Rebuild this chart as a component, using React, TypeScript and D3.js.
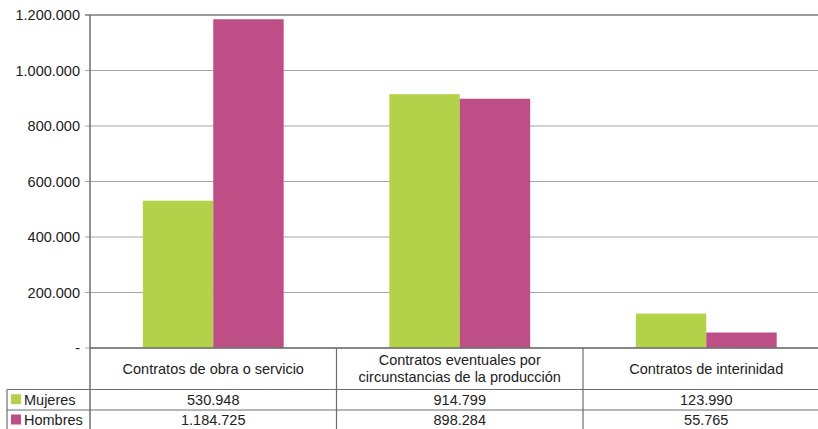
import React from "react";
import * as d3 from "d3";

const categories = [
  ["Contratos de obra o servicio"],
  ["Contratos eventuales por", "circunstancias de la producción"],
  ["Contratos de interinidad"],
];
const seriesNames = ["Mujeres", "Hombres"];
const mujeres = [530948, 914799, 123990];
const hombres = [1184725, 898284, 55765];
const tickValues = [0, 200000, 400000, 600000, 800000, 1000000, 1200000];
const colors = ["#b3d149", "#bd4f86"];

const W = 818;
const H = 429;
const FONT = "'Liberation Sans', Arial, sans-serif";
const FS = 14.5;

export default function App() {
  const left = 90;
  const plotRight = 829.5;
  const top = 15;
  const base = 348;
  const loc = d3.formatLocale({ decimal: ",", thousands: ".", grouping: [3], currency: ["", ""] });
  const fmt = loc.format(",d");
  const catIdx = categories.map((_, i) => String(i));
  const x0 = d3.scaleBand<string>().domain(catIdx).range([left, plotRight]).padding(0);
  const bw = x0.bandwidth();
  const x1 = d3.scaleBand<string>().domain(seriesNames).range([bw * 0.2143, bw * (1 - 0.2143)]).padding(0);
  const y = d3.scaleLinear().domain([0, 1200000]).range([base, top]);
  const series = [mujeres, hombres];
  const row1 = 389.5;
  const row2 = 410;
  const row3 = 430;

  return (
    <svg width={W} height={H} style={{ position: "fixed", left: 0, top: 0, fontFamily: FONT }}>
      <rect x={0} y={0} width={W} height={H} fill="#fff" />
      {tickValues.map((t) => (
        <g key={t}>
          <line x1={left - 5} x2={W} y1={y(t)} y2={y(t)}
            stroke={t === 1200000 ? "#7a7a7a" : "#a6a6a6"} strokeWidth={t === 1200000 ? 1.5 : 1} />
          <text x={80} y={y(t)} dy="0.35em" textAnchor="end" fontSize={FS} fill="#222">
            {t === 0 ? "-" : fmt(t)}
          </text>
        </g>
      ))}
      {series.map((vals, si) =>
        vals.map((v, ci) => (
          <rect key={si + "-" + ci}
            x={(x0(String(ci)) as number) + (x1(seriesNames[si]) as number)}
            y={y(v)} width={x1.bandwidth()} height={base - y(v)} fill={colors[si]} />
        ))
      )}
      {/* table */}
      <line x1={left} x2={W} y1={base} y2={base} stroke="#6e6e6e" strokeWidth={1.5} />
      <line x1={7} x2={W} y1={row1} y2={row1} stroke="#6e6e6e" strokeWidth={1.2} />
      <line x1={7} x2={W} y1={row2} y2={row2} stroke="#6e6e6e" strokeWidth={1.2} />
      <line x1={7} x2={7} y1={row1} y2={H} stroke="#6e6e6e" strokeWidth={1.2} />
      <line x1={left} x2={left} y1={top} y2={H} stroke="#6e6e6e" strokeWidth={1.5} />
      {catIdx.slice(1).map((c) => (
        <line key={c} x1={x0(c) as number} x2={x0(c) as number} y1={base} y2={H} stroke="#6e6e6e" strokeWidth={1.2} />
      ))}
      {categories.map((lines, ci) => {
        const cx = (x0(String(ci)) as number) + bw / 2;
        const mid = (base + row1) / 2;
        return (
          <text key={ci} textAnchor="middle" fontSize={FS} fill="#222">
            {lines.map((l, li) => (
              <tspan key={li} x={cx} y={mid + (li - (lines.length - 1) / 2) * 17} dy="0.35em">{l}</tspan>
            ))}
          </text>
        );
      })}
      {series.map((vals, si) => {
        const yTop = si === 0 ? row1 : row2;
        const yBot = si === 0 ? row2 : row3;
        const ym = (yTop + yBot) / 2;
        return (
          <g key={si}>
            <rect x={11} y={ym - 5.5} width={10} height={10} fill={colors[si]} />
            <text x={24} y={ym} dy="0.35em" fontSize={FS} fill="#222">{seriesNames[si]}</text>
            {vals.map((v, ci) => (
              <text key={ci} x={(x0(String(ci)) as number) + bw / 2} y={ym} dy="0.35em"
                textAnchor="middle" fontSize={FS} fill="#222">{fmt(v)}</text>
            ))}
          </g>
        );
      })}
    </svg>
  );
}
